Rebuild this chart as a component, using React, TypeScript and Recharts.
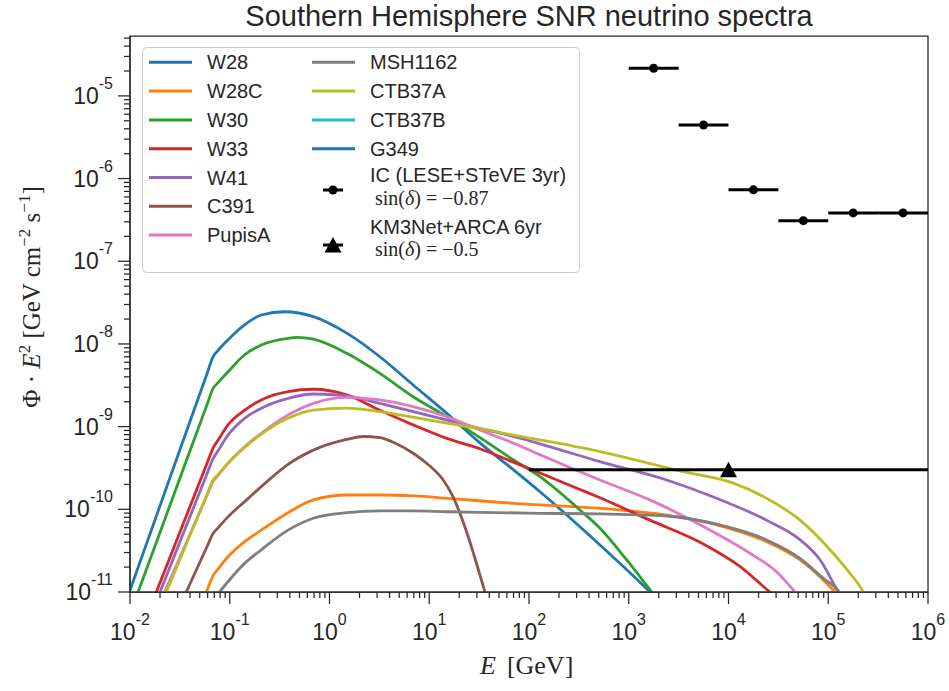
import React from "react";
import { ComposedChart, Line, Scatter, ErrorBar, XAxis, YAxis, Legend, ReferenceArea } from "recharts";

type Pt = [number, number];

// E [GeV], Phi*E^2 [GeV cm^-2 s^-1]
const w28: Pt[] = [
  [0.01, 1.05e-11], [0.03, 4.38e-10], [0.06, 4.59e-9], [0.068, 7.0e-9], [0.076, 8.3e-9],
  [0.096, 1.12e-8], [0.141, 1.7e-8], [0.207, 2.24e-8], [0.356, 2.45e-8], [0.69, 2.14e-8],
  [1.49, 1.35e-8], [3.2, 7.0e-9], [6.9, 3.19e-9], [15, 1.45e-9], [32, 6.4e-10],
  [70, 3.0e-10], [129, 1.63e-10], [515, 3.7e-11], [1630, 1.0e-11], [2000, 7.8e-12],
];
const w28c: Pt[] = [
  [0.055, 8.4e-12], [0.06, 1.09e-11], [0.068, 1.58e-11], [0.076, 1.88e-11], [0.096, 2.67e-11],
  [0.141, 4.06e-11], [0.207, 5.6e-11], [0.384, 9.1e-11], [0.69, 1.3e-10], [1.49, 1.49e-10],
  [3.2, 1.49e-10], [6.9, 1.45e-10], [15, 1.36e-10], [32, 1.27e-10], [70, 1.18e-10],
  [129, 1.13e-10], [515, 1.03e-10], [2400, 8.5e-11], [7600, 6.5e-11], [24100, 4.06e-11],
  [52100, 2.44e-11], [82600, 1.53e-11], [117000, 1.0e-11], [130000, 8.8e-12],
];
const w30: Pt[] = [
  [0.011, 7.4e-12], [0.03, 1.99e-10], [0.06, 1.93e-9], [0.068, 2.9e-9], [0.076, 3.38e-9],
  [0.096, 4.6e-9], [0.141, 7.4e-9], [0.207, 9.7e-9], [0.384, 1.17e-8], [0.47, 1.2e-8],
  [0.69, 1.14e-8], [1.49, 7.7e-9], [3.2, 4.4e-9], [6.9, 2.3e-9], [15, 1.32e-9],
  [32, 7.4e-10], [70, 3.95e-10], [129, 2.48e-10], [324, 9.8e-11], [515, 5.9e-11],
  [955, 2.44e-11], [1700, 1.0e-11], [2000, 7.8e-12],
];
const w33: Pt[] = [
  [0.017, 7.9e-12], [0.03, 4.49e-11], [0.06, 3.75e-10], [0.068, 5.5e-10], [0.076, 6.78e-10],
  [0.096, 1.05e-9], [0.141, 1.58e-9], [0.207, 2.1e-9], [0.384, 2.65e-9], [0.69, 2.83e-9],
  [1.49, 2.42e-9], [3.2, 1.58e-9], [6.9, 1.05e-9], [15, 7.2e-10], [32, 5.4e-10],
  [70, 3.72e-10], [129, 2.75e-10], [324, 1.74e-10], [515, 1.38e-10], [1630, 7.4e-11],
  [5180, 4.0e-11], [13000, 2.04e-11], [26000, 1.0e-11], [30000, 8.7e-12],
];
const w41: Pt[] = [
  [0.0185, 7.9e-12], [0.03, 3.44e-11], [0.06, 2.81e-10], [0.068, 4.1e-10], [0.076, 5.07e-10],
  [0.096, 7.9e-10], [0.141, 1.26e-9], [0.207, 1.67e-9], [0.384, 2.2e-9], [0.69, 2.48e-9],
  [1.49, 2.35e-9], [3.2, 1.91e-9], [6.9, 1.52e-9], [15, 1.2e-9], [32, 9.5e-10],
  [70, 7.6e-10], [129, 6.2e-10], [515, 3.77e-10], [2400, 2.26e-10], [7600, 1.36e-10],
  [24000, 7.4e-11], [52000, 4.3e-11], [83000, 2.44e-11], [126000, 1.0e-11], [140000, 8.1e-12],
];
const c391: Pt[] = [
  [0.034, 8.2e-12], [0.045, 1.72e-11], [0.06, 3.67e-11], [0.068, 5.1e-11], [0.076, 5.93e-11],
  [0.096, 8.1e-11], [0.141, 1.24e-10], [0.207, 1.88e-10], [0.384, 3.5e-10], [0.69, 5.2e-10],
  [1.49, 7.0e-10], [2.18, 7.6e-10], [3.2, 7.35e-10], [4.68, 6.2e-10], [6.9, 4.77e-10],
  [10, 3.39e-10], [13.8, 2.26e-10], [17, 1.48e-10], [20.3, 8.95e-11], [24, 5.1e-11],
  [27.7, 2.95e-11], [31.6, 1.74e-11], [36.2, 1.0e-11], [38.5, 7.9e-12],
];
const pupisA: Pt[] = [
  [0.021, 8.5e-12], [0.03, 2.27e-11], [0.06, 1.53e-10], [0.068, 2.16e-10], [0.076, 2.55e-10],
  [0.096, 3.6e-10], [0.141, 5.7e-10], [0.207, 8.3e-10], [0.384, 1.38e-9], [0.69, 1.91e-9],
  [1.49, 2.26e-9], [3.2, 2.1e-9], [6.9, 1.75e-9], [15, 1.32e-9], [32, 9.1e-10],
  [70, 6.3e-10], [129, 4.57e-10], [515, 2.26e-10], [1630, 1.3e-10], [5180, 6.5e-11],
  [16400, 2.94e-11], [30300, 1.76e-11], [46500, 1.0e-11], [52000, 8.6e-12],
];
const msh1162: Pt[] = [
  [0.072, 8.7e-12], [0.141, 2.22e-11], [0.207, 3.24e-11], [0.384, 5.6e-11], [0.69, 7.8e-11],
  [1.49, 9.1e-11], [3.2, 9.55e-11], [6.9, 9.55e-11], [15, 9.35e-11], [32, 9.2e-11],
  [129, 8.95e-11], [515, 8.8e-11], [2400, 8.3e-11], [7600, 6.6e-11], [24100, 4.26e-11],
  [52100, 2.55e-11], [89300, 1.46e-11], [129000, 1.0e-11], [140000, 8.5e-12],
];
const ctb37a: Pt[] = [
  [0.0215, 8.1e-12], [0.03, 2.12e-11], [0.06, 1.57e-10], [0.068, 2.26e-10], [0.076, 2.62e-10],
  [0.096, 3.6e-10], [0.141, 5.6e-10], [0.207, 8.1e-10], [0.384, 1.26e-9], [0.69, 1.58e-9],
  [1.49, 1.67e-9], [3.2, 1.52e-9], [6.9, 1.3e-9], [15, 1.1e-9], [32, 9.5e-10],
  [70, 7.9e-10], [129, 6.9e-10], [515, 5.0e-10], [3520, 2.85e-10], [11200, 2.07e-10],
  [24100, 1.36e-10], [52100, 7.4e-11], [112000, 2.94e-11], [165000, 1.68e-11], [224000, 1.0e-11],
  [245000, 7.8e-12],
];
// not visible inside the plotted range
const ctb37b: Pt[] = [];
const g349: Pt[] = [];

const seriesNames = ["W28", "W28C", "W30", "W33", "W41", "C391", "PupisA", "MSH1162", "CTB37A", "CTB37B", "G349"];
const seriesColors = ["#1f77b4", "#ff7f0e", "#2ca02c", "#d62728", "#9467bd", "#8c564b", "#e377c2", "#7f7f7f", "#bcbd22", "#17becf", "#1f77b4"];
const seriesData: Pt[][] = [w28, w28c, w30, w33, w41, c391, pupisA, msh1162, ctb37a, ctb37b, g349];

// IceCube (LESE+STeVE 3yr) half-decade bins
const icLow = [1000, 3162, 10000, 31623, 100000, 316228];
const icHigh = [3162, 10000, 31623, 100000, 316228, 1000000];
const icFlux = [2.16e-5, 4.45e-6, 7.3e-7, 3.1e-7, 3.84e-7, 3.84e-7];

// KM3Net+ARCA 6yr
const km3Mid = [10000];
const km3Low = [100];
const km3High = [1000000];
const km3Flux = [3.0e-10];

const xMajor = [1e-2, 1e-1, 1, 10, 100, 1e3, 1e4, 1e5, 1e6];
const yMajor = [1e-11, 1e-10, 1e-9, 1e-8, 1e-7, 1e-6, 1e-5];
const yTop = 5.3e-5;

const minorOf = (majors: number[], max: number) =>
  majors.flatMap((m) => [2, 3, 4, 5, 6, 7, 8, 9].map((k) => k * m)).filter((v) => v < max);
const xTicks = [...xMajor, ...minorOf(xMajor, 1e6)];
const yTicks = [...yMajor, ...minorOf(yMajor, yTop)];

const icRows = icLow.map((lo, i) => {
  const hi = icHigh[i];
  const c = Math.sqrt(lo * hi);
  return { x: c, y: icFlux[i], xerr: [c - lo, hi - c] };
});
const km3Rows = km3Mid.map((c, i) => ({ x: c, y: km3Flux[i], xerr: [c - km3Low[i], km3High[i] - c] }));

const AX = "#262626";
const SANS = "'Liberation Sans', Arial, sans-serif";
const NARROW = "'Liberation Sans Narrow', 'Liberation Sans', Arial, sans-serif";
const SERIF = "'Liberation Serif', 'Times New Roman', serif";

const isMajor = (v: number) => {
  const e = Math.log10(v);
  return Math.abs(e - Math.round(e)) < 1e-6;
};

const XTick = (props: any) => {
  const { x, y, payload } = props;
  const v = payload.value;
  const major = isMajor(v);
  return (
    <g>
      <line x1={x} x2={x} y1={y} y2={y + (major ? 12 : 6)} stroke={AX} strokeWidth={1.25} />
      {major && (
        <text x={x} y={y + 48} textAnchor="middle" fontSize={23} fontFamily={NARROW} fill={AX}>
          10<tspan dy={-15} fontSize={16}>{Math.round(Math.log10(v))}</tspan>
        </text>
      )}
    </g>
  );
};

const YTick = (props: any) => {
  const { x, y, payload } = props;
  const v = payload.value;
  const major = isMajor(v);
  return (
    <g>
      <line x1={x} x2={x - (major ? 12 : 6)} y1={y} y2={y} stroke={AX} strokeWidth={1.25} />
      {major && (
        <text x={x - 17} y={y + 8} textAnchor="end" fontSize={23} fontFamily={NARROW} fill={AX}>
          10<tspan dy={-15} fontSize={16}>{Math.round(Math.log10(v))}</tspan>
        </text>
      )}
    </g>
  );
};

const XLabel = () => (
  <text x={480} y={674} fontSize={26} fontFamily={SERIF} fill={AX}>
    <tspan fontStyle="italic">E</tspan>
    <tspan dx={11}>[GeV]</tspan>
  </text>
);

const YLabel = () => (
  <text transform="translate(40,297) rotate(-90)" textAnchor="middle" fontSize={25} fontFamily={SERIF} fill={AX}>
    <tspan>Φ · </tspan>
    <tspan fontStyle="italic">E</tspan>
    <tspan dy={-10} fontSize={17}>2</tspan>
    <tspan dy={10}> [GeV cm</tspan>
    <tspan dy={-10} fontSize={17}>−2</tspan>
    <tspan dy={10}> s</tspan>
    <tspan dy={-10} fontSize={17}>−1</tspan>
    <tspan dy={10}>]</tspan>
  </text>
);

const LegendBox = () => {
  const rowY = (i: number) => 15.3 + i * 28.8;
  return (
    <svg width={438} height={226} style={{ display: "block" }}>
      <rect x={0.5} y={0.5} width={437} height={225} rx={4} fill="#fff" fillOpacity={0.8} stroke="#cccccc" />
      {seriesNames.map((n, i) => {
        const col = i < 7 ? 0 : 1;
        const y = rowY(col ? i - 7 : i);
        const lx = col ? 170 : 7;
        const tx = col ? 228 : 65;
        return (
          <g key={n}>
            <line x1={lx} x2={lx + 43} y1={y} y2={y} stroke={seriesColors[i]} strokeWidth={3} />
            <text x={tx} y={y + 7} fontSize={20} fontFamily={SANS} fill={AX}>{n}</text>
          </g>
        );
      })}
      <line x1={181} x2={201} y1={143} y2={143} stroke="#000" strokeWidth={3} />
      <circle cx={191} cy={143} r={4.5} fill="#000" />
      <text x={228} y={135} fontSize={20} fontFamily={SANS} fill={AX}>IC (LESE+STeVE 3yr)</text>
      <text x={233} y={158} fontSize={20} fontFamily={SERIF} fill={AX}>
        sin(<tspan fontStyle="italic">δ</tspan>) = −0.87
      </text>
      <line x1={181} x2={201} y1={198} y2={198} stroke="#000" strokeWidth={3} />
      <polygon points="191,190 182.5,205.5 199.5,205.5" fill="#000" />
      <text x={228} y={187} fontSize={20} fontFamily={SANS} fill={AX}>KM3Net+ARCA 6yr</text>
      <text x={233} y={209} fontSize={20} fontFamily={SERIF} fill={AX}>
        sin(<tspan fontStyle="italic">δ</tspan>) = −0.5
      </text>
    </svg>
  );
};

export default function App() {
  return (
    <div style={{ position: "absolute", left: 0, top: 0, width: 949, height: 691, background: "#fff" }}>
      <div
        style={{
          position: "absolute", left: 130, width: 798, top: -1, textAlign: "center",
          fontFamily: SANS, fontSize: 29, lineHeight: "34px", color: AX,
        }}
      >
        Southern Hemisphere SNR neutrino spectra
      </div>
      <ComposedChart width={949} height={691} margin={{ top: 36, right: 21, bottom: 39, left: 50 }}>
        <XAxis
          dataKey="x" type="number" scale="log" domain={[1e-2, 1e6]} allowDataOverflow
          ticks={xTicks} interval={0} tickSize={0} tickMargin={0} tickLine={false}
          tick={<XTick />} height={60} stroke={AX} strokeWidth={1.25} label={<XLabel />}
        />
        <YAxis
          dataKey="y" type="number" scale="log" domain={[1e-11, yTop]} allowDataOverflow
          ticks={yTicks} interval={0} tickSize={0} tickMargin={0} tickLine={false}
          tick={<YTick />} width={80} stroke={AX} strokeWidth={1.25} label={<YLabel />}
        />
        <ReferenceArea x1={1e-2} x2={1e6} y1={1e-11} y2={yTop} fill="none" stroke={AX} strokeWidth={1.25} />
        {seriesNames.map((n, i) => (
          <Line
            key={n} name={n} data={seriesData[i].map(([x, y]) => ({ x, y }))} dataKey="y"
            type="monotone" stroke={seriesColors[i]} strokeWidth={2.8} dot={false} activeDot={false}
            isAnimationActive={false}
          />
        ))}
        <Scatter
          name="IC" data={icRows} dataKey="y" isAnimationActive={false}
          shape={(p: any) => <circle cx={p.cx} cy={p.cy} r={4.5} fill="#000" />}
        >
          <ErrorBar dataKey="xerr" direction="x" width={0} stroke="#000" strokeWidth={3} isAnimationActive={false} />
        </Scatter>
        <Scatter
          name="KM3Net" data={km3Rows} dataKey="y" isAnimationActive={false}
          shape={(p: any) => (
            <polygon points={`${p.cx},${p.cy - 8} ${p.cx - 8.5},${p.cy + 7.5} ${p.cx + 8.5},${p.cy + 7.5}`} fill="#000" />
          )}
        >
          <ErrorBar dataKey="xerr" direction="x" width={0} stroke="#000" strokeWidth={3} isAnimationActive={false} />
        </Scatter>
        <Legend
          layout="vertical" align="center" verticalAlign="middle"
          content={<LegendBox />}
          wrapperStyle={{ left: 142, top: 47, width: 438, height: 226 }}
        />
      </ComposedChart>
    </div>
  );
}
